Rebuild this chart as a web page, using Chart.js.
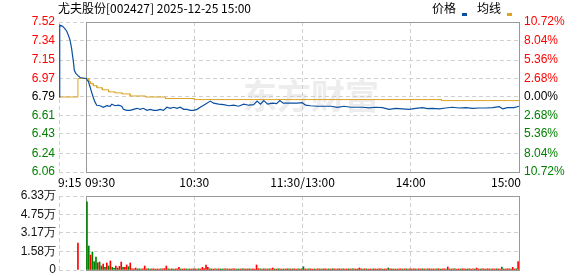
<!DOCTYPE html>
<html>
<head>
<meta charset="utf-8">
<script src="https://cdn.jsdelivr.net/npm/chart.js@4.4.1/dist/chart.umd.min.js"></script>
<style>
  body { margin: 0; background: #fff; }
  #wrap { position: relative; width: 578px; height: 276px; overflow: hidden; font-family: 'Noto Sans CJK SC', sans-serif; }
  .txt { position: absolute; top: 0; font-size: 12px; line-height: 16px; color: #000; white-space: nowrap; }
  .mark { position: absolute; top: 13px; width: 5px; height: 3px; }
  #price { position: absolute; left: 0; top: 0; }
  #vol { position: absolute; left: 0; top: 180px; }
</style>
</head>
<body>
<div id="wrap">
  <canvas id="price" width="578" height="190"></canvas>
  <canvas id="vol" width="578" height="96"></canvas>
  <div class="txt" style="left:58px">尤夫股份[002427] 2025-12-25 15:00</div>
  <div class="txt" style="left:432px">价格</div>
  <div class="mark" style="left:462px;background:#0a4fa0"></div>
  <div class="txt" style="left:477px">均线</div>
  <div class="mark" style="left:507px;background:#dba427"></div>
</div>
<script>
// minutes counted from 9:15 (9:30 = 15, 11:30/13:00 = 135, 15:00 = 255)
const timeTicks = [0, 15, 75, 135, 195, 255];
const timeLabels = ['9:15', '09:30', '10:30', '11:30/13:00', '14:00', '15:00'];

const prevClose = 6.79;
const priceTicks = [6.06, 6.24, 6.43, 6.61, 6.79, 6.97, 7.15, 7.34, 7.52];
const pctLabels = ['10.72%', '8.04%', '5.36%', '2.68%', '0.00%', '2.68%', '5.36%', '8.04%', '10.72%'];

const priceMinutes = [
  0, 0.4, 1.8, 3.0, 4.3, 5.2, 6.1, 7.0, 8.0, 8.5, 9.3, 10.4, 11.7, 15,
  16.3, 17.2, 18.2, 19.1, 20, 20.9, 22.8, 24.6, 26.5, 28.3,
  29.3, 31.1, 32.9, 34.8, 35.7, 37.6, 39.4, 41.3, 43.2, 45,
  46.8, 48.7, 50.6, 52.4, 54.3, 56.1, 57.9, 59.8, 61.7, 63.5,
  65.4, 67.2, 69.1, 70.9, 72.8, 74.6, 76.5, 78.3, 81.1, 83.9,
  85.7, 88.5, 91.3, 94.1, 96.8, 99.6, 102.4, 105.2, 107.9, 109.8,
  111.7, 113.5, 115.7, 118.2, 120.6, 122.4, 124.3, 126.5, 129.3, 132,
  134.8, 136.7, 139.4, 143.2, 146.8, 150.6, 154.3, 158, 161.7, 165.4,
  168.2, 171.8, 175.6, 179.3, 182.9, 186.7, 190.4, 194.1, 197.8, 201.5,
  204.3, 207, 210.7, 214.4, 218.2, 221.8, 225.6, 229.3, 233, 236.7,
  240.4, 244, 245.9, 248.7, 252.3, 255
];
const priceValues = [
  6.79, 7.49, 7.48, 7.46, 7.43, 7.39, 7.345, 7.26, 7.13, 7.05, 7.02, 7.00, 6.98, 6.97,
  6.94, 6.89, 6.83, 6.78, 6.74, 6.71, 6.705, 6.69, 6.705, 6.70,
  6.72, 6.705, 6.71, 6.70, 6.67, 6.66, 6.66, 6.67, 6.68, 6.67,
  6.68, 6.66, 6.67, 6.66, 6.66, 6.67, 6.66, 6.69, 6.68, 6.69,
  6.68, 6.69, 6.67, 6.67, 6.66, 6.66, 6.67, 6.69, 6.72, 6.75,
  6.73, 6.72, 6.715, 6.705, 6.71, 6.70, 6.72, 6.71, 6.715, 6.75,
  6.72, 6.755, 6.72, 6.73, 6.725, 6.755, 6.73, 6.73, 6.73, 6.73,
  6.735, 6.71, 6.705, 6.70, 6.70, 6.70, 6.69, 6.70, 6.69, 6.69,
  6.69, 6.685, 6.69, 6.687, 6.67, 6.68, 6.675, 6.67, 6.68, 6.687,
  6.677, 6.68, 6.675, 6.683, 6.69, 6.683, 6.687, 6.68, 6.683, 6.683,
  6.687, 6.697, 6.675, 6.687, 6.687, 6.70
];

// average price, each value holds from its minute onward
const avgMinutes = [0, 10.5, 16.5, 17.5, 19, 21, 24, 27.5, 31, 35, 39.5, 48, 59, 75, 212, 255];
const avgValues = [6.79, 6.97, 6.94, 6.92, 6.90, 6.88, 6.86, 6.84, 6.83, 6.82, 6.80, 6.79, 6.775, 6.765, 6.755, 6.755];

const volTicks = [0, 15800, 31700, 47500, 63300];
const volTickLabels = ['0', '1.58万', '3.17万', '4.75万', '6.33万'];

const auctionMinute = 10.5;
const auctionVolume = 23000;

// one bar per trading minute from 9:30
const volumes = [
  58400, 20500, 12800, 15400, 7100, 11100, 6200, 6800, 3400, 5100, 2300, 6000, 3400, 7700, 2300, 1400, 3400, 1700, 3100, 6800,
  2300, 2300, 4300, 2800, 6000, 900, 1100, 1700, 900, 1000, 800, 900, 3400, 900, 1100, 800, 900, 1000, 700, 900,
  800, 1000, 900, 1200, 3400, 900, 800, 1000, 700, 900, 1100, 2300, 900, 800, 1000, 900, 700, 900, 800, 1000,
  900, 800, 1000, 900, 2300, 1100, 4300, 2300, 1000, 900, 800, 900, 700, 1000, 900, 800, 900, 1100, 800, 900,
  800, 900, 1000, 700, 900, 800, 1000, 900, 800, 900, 1000, 800, 900, 700, 4300, 1100, 900, 800, 1000, 900,
  800, 900, 1000, 1700, 900, 800, 1000, 900, 700, 900, 800, 1000, 900, 800, 900, 1000, 700, 900, 800, 1000,
  2800, 900, 800, 1000, 900, 700, 900, 800, 1000, 900, 800, 900, 1000, 700, 900, 800, 1000, 900, 800, 900,
  1000, 800, 900, 700, 900, 1000, 800, 900, 1000, 800, 900, 1700, 900, 800, 1000, 900, 700, 900, 800, 1000,
  900, 800, 1000, 900, 700, 900, 800, 1700, 1000, 900, 800, 900, 700, 1000, 900, 800, 900, 1000, 800, 900,
  800, 1000, 900, 700, 900, 800, 1000, 900, 800, 900, 1000, 800, 900, 700, 900, 1000, 800, 900, 1000, 800,
  2600, 900, 800, 1000, 900, 700, 900, 800, 1000, 900, 800, 900, 1000, 700, 900, 800, 1700, 900, 800, 1000,
  900, 800, 1000, 900, 700, 900, 800, 1000, 900, 800, 2600, 900, 800, 1000, 900, 700, 2300, 900, 1000, 7100
];
// 1 = price up in that minute (red), 0 = down (green)
const volumeRise = [
  0, 0, 1, 0, 0, 0, 1, 0, 0, 1, 0, 1, 0, 1, 0, 0, 1, 0, 1, 1,
  0, 1, 1, 0, 1, 1, 1, 1, 0, 0, 0, 1, 1, 1, 0, 0, 1, 1, 0, 1,
  1, 0, 1, 1, 1, 0, 1, 0, 0, 1, 1, 1, 0, 1, 1, 0, 0, 1, 1, 0,
  1, 1, 0, 1, 1, 1, 1, 1, 0, 0, 1, 1, 0, 1, 0, 0, 1, 0, 1, 1,
  0, 1, 1, 0, 0, 1, 0, 1, 1, 0, 1, 0, 1, 1, 1, 1, 0, 1, 0, 1,
  1, 0, 1, 1, 0, 1, 0, 1, 0, 0, 1, 1, 0, 1, 0, 1, 1, 0, 1, 0,
  0, 1, 1, 0, 1, 1, 0, 1, 1, 0, 1, 0, 1, 1, 0, 1, 0, 1, 1, 0,
  1, 1, 0, 1, 1, 0, 1, 0, 1, 1, 0, 1, 1, 0, 1, 0, 1, 1, 0, 1,
  1, 0, 1, 1, 0, 1, 1, 0, 1, 0, 1, 1, 0, 1, 1, 0, 1, 0, 1, 1,
  0, 1, 1, 0, 1, 1, 0, 1, 0, 1, 1, 0, 1, 1, 0, 1, 0, 1, 1, 0,
  1, 1, 0, 1, 0, 1, 1, 0, 1, 1, 0, 1, 0, 1, 1, 0, 1, 1, 0, 1,
  1, 0, 1, 1, 0, 1, 1, 0, 1, 1, 0, 1, 0, 1, 1, 0, 1, 1, 0, 1
];

const RED = '#ff0000', GREEN = '#008000', GRID = '#d0d0d0';
const tickFont = { family: 'Liberation Sans', size: 12 };
const align = p => Math.round(p - 0.5) + 0.5;

const noPad = s => { s.paddingTop = 0; s.paddingBottom = 0; s.paddingLeft = 0; s.paddingRight = 0; };

// stepped average line: vertical change at each listed minute
const avgPoints = [];
avgMinutes.forEach((m, i) => {
  if (i > 0) avgPoints.push({ x: m, y: avgValues[i - 1] });
  avgPoints.push({ x: m, y: avgValues[i] });
});

// solid box around the 9:30 - 15:00 part
const frame = {
  id: 'frame',
  beforeDatasetsDraw(chart) {
    const { ctx, chartArea: a } = chart;
    const x = chart.scales.x;
    const l = align(x.getPixelForValue(15)), r = align(x.getPixelForValue(255));
    const t = align(a.top), b = align(a.bottom);
    ctx.save();
    ctx.strokeStyle = '#999';
    ctx.lineWidth = 1;
    ctx.strokeRect(l, t, r - l, b - t);
    ctx.restore();
  }
};

const watermark = {
  id: 'watermark',
  beforeDraw(chart) {
    const ctx = chart.ctx;
    ctx.save();
    ctx.font = 'bold 34px "Noto Sans CJK SC"';
    ctx.fillStyle = '#ededed';
    ctx.textBaseline = 'middle';
    ctx.fillText('东方财富', 243, 96);
    ctx.restore();
  }
};

const timeAxisLabels = {
  id: 'timeAxisLabels',
  afterDraw(chart) {
    const ctx = chart.ctx;
    const x = chart.scales.x;
    ctx.save();
    ctx.font = '12px "Noto Sans CJK SC"';
    ctx.fillStyle = '#000';
    ctx.textBaseline = 'middle';
    timeTicks.forEach((v, i) => {
      let px = x.getPixelForValue(v);
      if (i < 2) { ctx.textAlign = 'left'; px -= 1; }
      else if (i === timeTicks.length - 1) { ctx.textAlign = 'right'; px += 2; }
      else ctx.textAlign = 'center';
      ctx.fillText(timeLabels[i], px, chart.chartArea.bottom + 10);
    });
    ctx.restore();
  }
};

const xScale = {
  type: 'linear', min: 0, max: 255, offset: false,
  afterBuildTicks: s => { s.ticks = timeTicks.map(v => ({ value: v })); },
  afterFit: noPad,
  ticks: { display: false },
  grid: { color: GRID, drawTicks: false, offset: false },
  border: { display: false, dash: [4, 3] }
};

const priceColor = ctx => ctx.tick.value > prevClose ? RED : ctx.tick.value < prevClose ? GREEN : '#000';

new Chart(document.getElementById('price'), {
  type: 'line',
  data: {
    datasets: [
      {
        label: '价格',
        data: priceMinutes.map((m, i) => ({ x: m, y: priceValues[i] })),
        borderColor: '#0a4fa0', borderWidth: 1.2, pointRadius: 0, tension: 0
      },
      {
        label: '均线',
        data: avgPoints,
        borderColor: '#dba427', borderWidth: 1, pointRadius: 0, tension: 0
      }
    ]
  },
  options: {
    responsive: false, animation: false, devicePixelRatio: 1,
    layout: { padding: { top: 22, bottom: 18, left: 0, right: 0 } },
    plugins: { legend: { display: false }, tooltip: { enabled: false } },
    scales: {
      x: xScale,
      y: {
        position: 'left', min: 6.06, max: 7.52,
        afterBuildTicks: s => { s.ticks = priceTicks.map(v => ({ value: v })); },
        afterFit: s => { s.width = 59; noPad(s); },
        ticks: { autoSkip: false, padding: 4, font: tickFont, color: priceColor, callback: (v, i) => priceTicks[i].toFixed(2) },
        grid: { color: GRID, drawTicks: false },
        border: { display: false, dash: [4, 3] }
      },
      yPct: {
        position: 'right', min: 6.06, max: 7.52,
        afterBuildTicks: s => { s.ticks = priceTicks.map(v => ({ value: v })); },
        afterFit: s => { s.width = 59; noPad(s); },
        ticks: { autoSkip: false, padding: 5, font: tickFont, color: priceColor, callback: (v, i) => pctLabels[i] },
        grid: { display: false, drawTicks: false },
        border: { display: false }
      }
    }
  },
  plugins: [watermark, frame, timeAxisLabels]
});

const volPoints = [{ x: auctionMinute, y: auctionVolume }].concat(volumes.map((v, t) => ({ x: 15.5 + t, y: v })));
const volColors = [RED].concat(volumeRise.map(r => r ? RED : GREEN));

new Chart(document.getElementById('vol'), {
  type: 'bar',
  data: {
    datasets: [{ label: '成交量', data: volPoints, backgroundColor: volColors, barThickness: 1, borderWidth: 0 }]
  },
  options: {
    responsive: false, animation: false, devicePixelRatio: 1,
    layout: { padding: { top: 16, bottom: 6, left: 0, right: 59 } },
    plugins: { legend: { display: false }, tooltip: { enabled: false } },
    scales: {
      x: xScale,
      y: {
        position: 'left', min: 0, max: 63300,
        afterBuildTicks: s => { s.ticks = volTicks.map(v => ({ value: v })); },
        afterFit: s => { s.width = 59; noPad(s); },
        ticks: { autoSkip: false, padding: 3, font: tickFont, color: '#111', callback: (v, i) => volTickLabels[i] },
        grid: { color: GRID, drawTicks: false },
        border: { display: false, dash: [4, 3] }
      }
    }
  },
  plugins: [frame]
});
</script>
</body>
</html>
